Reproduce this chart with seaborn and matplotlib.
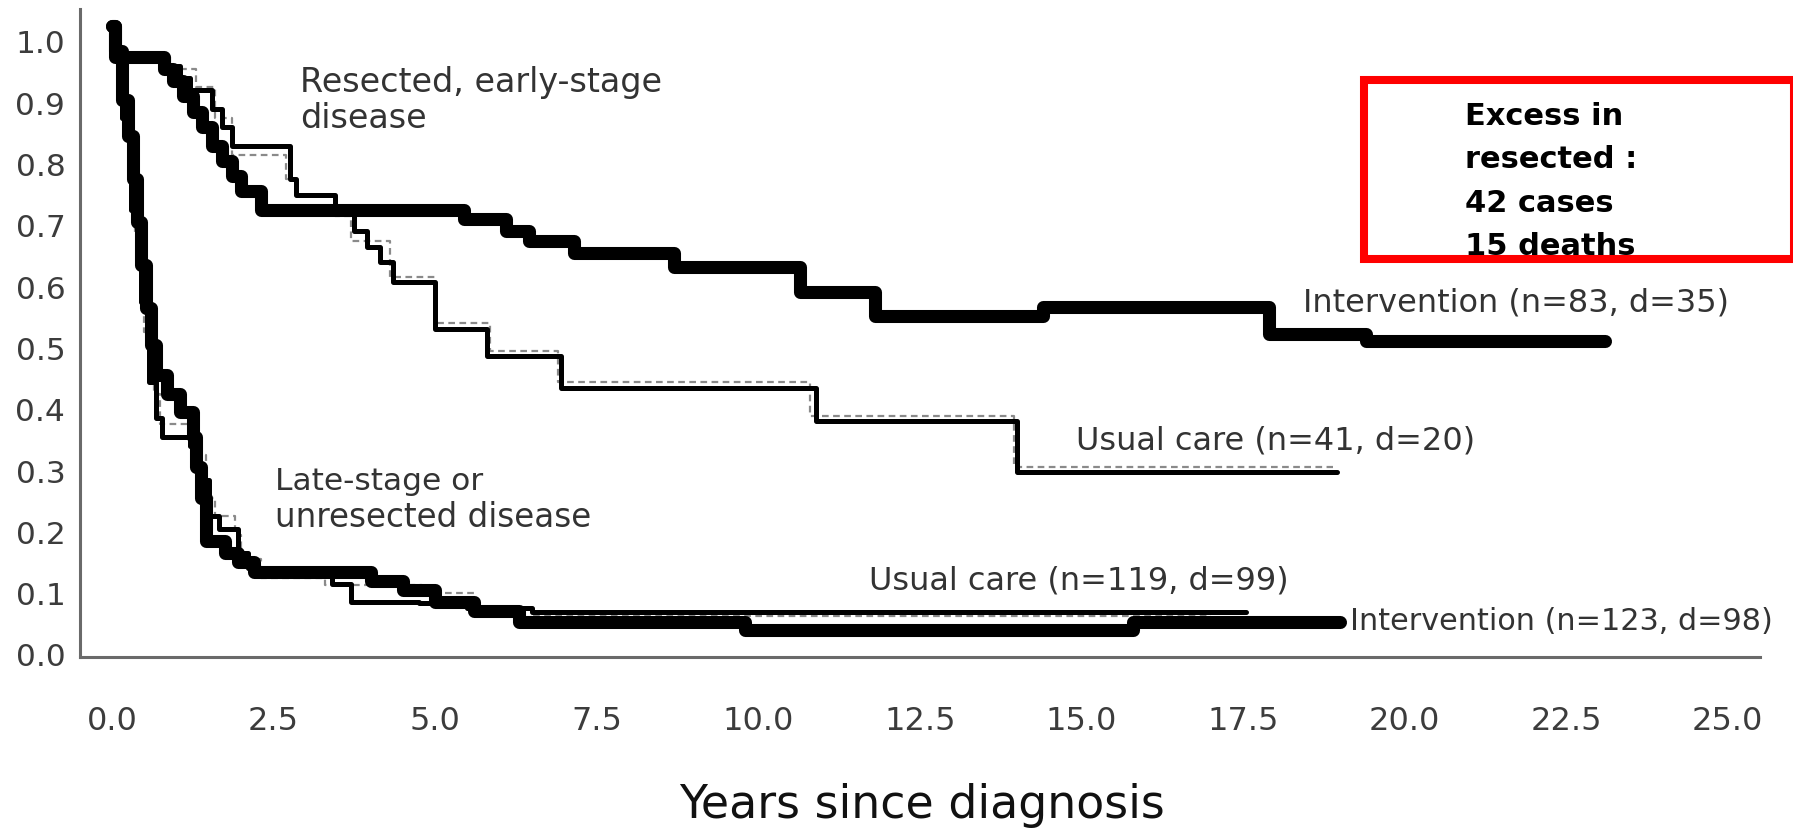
import numpy as np
import pandas as pd
import matplotlib
matplotlib.use("Agg")
import matplotlib.pyplot as plt
import matplotlib.transforms as mtransforms
from matplotlib.patches import Rectangle
import seaborn as sns

# ---------------- data ----------------
# Resected, early-stage disease
res_int_t = [0.0, 0.05, 0.8, 0.95, 1.1, 1.25, 1.4, 1.55, 1.7, 1.85, 2.0, 2.3, 5.45, 6.1, 6.45,
             7.15, 8.7, 10.65, 11.8, 14.4, 17.9, 19.4, 23.1]
res_int_s = [1.0, 0.95, 0.93, 0.91, 0.885, 0.86, 0.835, 0.805, 0.78, 0.755, 0.73, 0.70, 0.685,
             0.665, 0.65, 0.63, 0.607, 0.566, 0.527, 0.541, 0.497, 0.486, 0.486]

res_uc_t = [0.0, 0.05, 0.85, 1.05, 1.2, 1.55, 1.7, 1.85, 2.75, 2.85, 3.45, 3.75, 3.95, 4.15, 4.35,
            5.0, 5.8, 6.95, 10.9, 14.0, 18.95]
res_uc_s = [1.0, 0.95, 0.935, 0.915, 0.895, 0.865, 0.835, 0.805, 0.75, 0.725, 0.695, 0.665, 0.64,
            0.615, 0.582, 0.506, 0.462, 0.41, 0.356, 0.273, 0.273]

res_ucd_t = [0.0, 0.1, 0.9, 1.3, 1.6, 1.85, 2.7, 2.85, 3.45, 3.7, 4.3, 5.0, 5.85, 6.9, 10.8, 13.95, 18.9]
res_ucd_s = [1.0, 0.95, 0.93, 0.9, 0.85, 0.79, 0.75, 0.723, 0.69, 0.65, 0.59, 0.515, 0.47, 0.419,
             0.364, 0.28, 0.28]

# Late-stage or unresected disease
late_int_t = [0.0, 0.05, 0.15, 0.25, 0.32, 0.38, 0.45, 0.52, 0.6, 0.68, 0.85, 1.05, 1.25, 1.3, 1.38,
              1.45, 1.75, 1.95, 2.2, 4.0, 4.5, 5.0, 5.6, 6.3, 9.8, 15.8, 19.0]
late_int_s = [1.0, 0.96, 0.88, 0.82, 0.75, 0.68, 0.61, 0.54, 0.48, 0.43, 0.40, 0.37, 0.33, 0.28, 0.23,
              0.16, 0.14, 0.125, 0.11, 0.095, 0.08, 0.06, 0.045, 0.028, 0.014, 0.027, 0.027]

late_uc_t = [0.0, 0.05, 0.15, 0.3, 0.45, 0.58, 0.68, 0.78, 1.2, 1.35, 1.5, 1.65, 1.95, 2.1, 3.4, 3.7,
             4.75, 5.5, 6.5, 17.55]
late_uc_s = [1.0, 0.96, 0.85, 0.7, 0.55, 0.42, 0.36, 0.33, 0.315, 0.26, 0.2, 0.18, 0.14, 0.115, 0.09,
             0.06, 0.058, 0.05, 0.044, 0.044]

late_ucd_t = [0.0, 0.05, 0.2, 0.35, 0.5, 0.65, 0.75, 1.3, 1.45, 1.6, 1.9, 2.0, 2.3, 3.3, 4.8, 5.6, 6.5, 17.0]
late_ucd_s = [1.0, 0.95, 0.82, 0.66, 0.5, 0.4, 0.35, 0.3, 0.23, 0.2, 0.17, 0.13, 0.1, 0.088, 0.075,
              0.05, 0.037, 0.037]

x_ticks = [0.0, 2.5, 5.0, 7.5, 10.0, 12.5, 15.0, 17.5, 20.0, 22.5, 25.0]
x_tick_labels = ["0.0", "2.5", "5.0", "7.5", "10.0", "12.5", "15.0", "17.5", "20.0", "22.5", "25.0"]
y_ticks = [0.0, 0.1, 0.2, 0.3, 0.4, 0.5, 0.6, 0.7, 0.8, 0.9, 1.0]
y_tick_labels = ["0.0", "0.1", "0.2", "0.3", "0.4", "0.5", "0.6", "0.7", "0.8", "0.9", "1.0"]

curve_labels = ["Intervention (n=83, d=35)", "Usual care (n=41, d=20)",
                "Usual care (n=119, d=99)", "Intervention (n=123, d=98)"]
group_labels = [["Resected, early-stage", "disease"], ["Late-stage or", "unresected disease"]]
box_lines = ["Excess in", "resected :", "42 cases", "15 deaths"]
x_label = "Years since diagnosis"

# ---------------- figure ----------------
sns.set_style("white")
plt.rcParams["font.family"] = ["DejaVu Sans"]

W, H = 1793, 829
fig = plt.figure(figsize=(W / 100, H / 100), dpi=100)
fig.patch.set_facecolor("white")
ax = fig.add_axes([80 / W, 1 - 657.7 / H, (1760 - 80) / W, (657.7 - 10) / H])
ax.set_facecolor("white")


def curve(t, s, **kw):
    df = pd.DataFrame({"t": t, "s": s})
    sns.lineplot(data=df, x="t", y="s", ax=ax, estimator=None, sort=False,
                 drawstyle="steps-post", legend=False, **kw)


# dashed originals underneath
curve(res_ucd_t, res_ucd_s, color="#8a8a8a", linewidth=1.6, linestyle=(0, (3, 2)))
curve(late_ucd_t, late_ucd_s, color="#8a8a8a", linewidth=1.6, linestyle=(0, (3, 2)))
# thin usual care
curve(res_uc_t, res_uc_s, color="black", linewidth=3.6)
curve(late_uc_t, late_uc_s, color="black", linewidth=3.6)
# thick intervention
curve(res_int_t, res_int_s, color="black", linewidth=9.4)
curve(late_int_t, late_int_s, color="black", linewidth=9.4)

ax.set_xlim(-0.495, 25.5)
ax.set_ylim(-0.0289, 1.0277)
ax.set_xlabel("")
ax.set_ylabel("")

for side in ["top", "right"]:
    ax.spines[side].set_visible(False)
for side in ["left", "bottom"]:
    ax.spines[side].set_color("#6a6a6a")
    ax.spines[side].set_linewidth(2.2)

ax.set_xticks(x_ticks)
ax.set_xticklabels(x_tick_labels)
ax.set_yticks(y_ticks)
ax.set_yticklabels(y_tick_labels)
ax.tick_params(axis="x", direction="out", length=15, width=2.0, color="#6a6a6a",
               pad=20, labelsize=23, labelcolor="#3c3c3c")
ax.tick_params(axis="y", direction="out", length=8.6, width=1.6, color="#6a6a6a",
               pad=2, labelsize=22.5, labelcolor="#3c3c3c")
off = mtransforms.ScaledTranslation(0, -15 / 100, fig.dpi_scale_trans)
for lab in ax.get_yticklabels():
    lab.set_transform(lab.get_transform() + off)

# axis title
fig.text(922 / W, 1 - 818 / H, x_label, ha="center", va="baseline",
         fontsize=33, color="#111111")

# annotations (left, baseline in pixels, size)
ann_color = "#333333"
ann = [
    (group_labels[0][0], 300, 92, 24), (group_labels[0][1], 300, 128, 24),
    (group_labels[1][0], 275, 490, 22.5), (group_labels[1][1], 275, 527, 23.5),
    (curve_labels[0], 1303, 311, 23), (curve_labels[1], 1076, 450, 23),
    (curve_labels[2], 869, 590, 23), (curve_labels[3], 1350, 630, 21.8),
]
for txt, xp, yp, fs in ann:
    fig.text(xp / W, 1 - yp / H, txt, ha="left", va="baseline",
             fontsize=fs, color=ann_color)

# red box
fig.patches.append(Rectangle((1364 / W, 1 - 259.5 / H), (1794 - 1364) / W, (259.5 - 80.5) / H,
                             transform=fig.transFigure, fill=False, edgecolor="#ff0000",
                             linewidth=5.8, clip_on=False))
for i, line in enumerate(box_lines):
    fig.text(1465 / W, 1 - (125 + 43.3 * i) / H, line, ha="left", va="baseline",
             fontsize=22, fontweight="bold", color="black")

fig.savefig("out.png", dpi=100, facecolor="white")
